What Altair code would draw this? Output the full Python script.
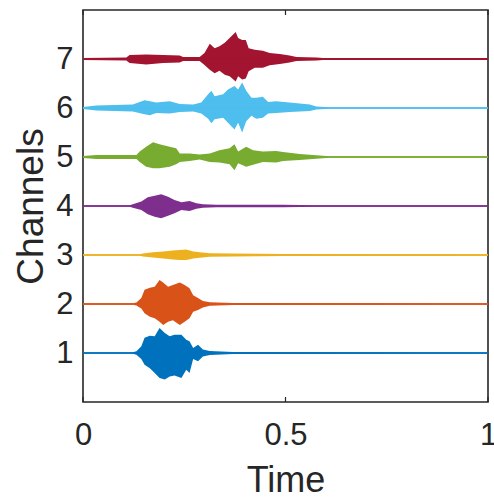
import altair as alt
import pandas as pd

channels = [1, 2, 3, 4, 5, 6, 7]
colors = ["#0072BD", "#D95319", "#EDB120", "#7E2F8E", "#77AC30", "#4DBEEE", "#A2142F"]
xtick_values = [0, 0.5, 1]
ytick_values = [1, 2, 3, 4, 5, 6, 7]

# envelope (upper / lower amplitude) of each channel's trace
t1 = [0, 0.123, 0.132, 0.144, 0.152, 0.165, 0.177, 0.189, 0.202, 0.214, 0.226, 0.243, 0.255, 0.263, 0.272, 0.284, 0.296, 0.313, 0.370, 1.0]
up1 = [0.015, 0.015, 0.035, 0.14, 0.31, 0.35, 0.34, 0.51, 0.41, 0.34, 0.37, 0.37, 0.27, 0.24, 0.10, 0.17, 0.07, 0.04, 0.02, 0.015]
lo1 = [0.015, 0.015, 0.035, 0.12, 0.24, 0.31, 0.41, 0.51, 0.54, 0.48, 0.46, 0.51, 0.34, 0.41, 0.12, 0.17, 0.07, 0.04, 0.02, 0.015]

t2 = [0, 0.123, 0.132, 0.144, 0.152, 0.165, 0.177, 0.189, 0.198, 0.210, 0.222, 0.239, 0.251, 0.263, 0.272, 0.284, 0.296, 0.313, 0.370, 1.0]
up2 = [0.015, 0.015, 0.03, 0.12, 0.29, 0.33, 0.35, 0.49, 0.44, 0.35, 0.39, 0.44, 0.39, 0.32, 0.18, 0.12, 0.06, 0.035, 0.02, 0.015]
lo2 = [0.015, 0.015, 0.03, 0.09, 0.19, 0.26, 0.29, 0.36, 0.43, 0.36, 0.33, 0.43, 0.36, 0.29, 0.16, 0.12, 0.07, 0.035, 0.02, 0.015]

t3 = [0, 0.140, 0.148, 0.173, 0.198, 0.222, 0.239, 0.255, 0.272, 0.288, 0.313, 0.370, 0.494, 1.0]
up3 = [0.015, 0.015, 0.03, 0.055, 0.07, 0.09, 0.10, 0.11, 0.07, 0.055, 0.035, 0.03, 0.02, 0.015]
lo3 = [0.015, 0.015, 0.03, 0.05, 0.07, 0.09, 0.10, 0.10, 0.07, 0.055, 0.035, 0.03, 0.02, 0.015]

t4 = [0, 0.115, 0.123, 0.144, 0.160, 0.177, 0.193, 0.210, 0.226, 0.243, 0.263, 0.280, 0.296, 0.329, 0.494, 0.576, 1.0]
up4 = [0.015, 0.015, 0.035, 0.09, 0.18, 0.21, 0.24, 0.19, 0.12, 0.075, 0.10, 0.055, 0.035, 0.025, 0.025, 0.015, 0.015]
lo4 = [0.015, 0.015, 0.035, 0.08, 0.17, 0.22, 0.25, 0.20, 0.15, 0.08, 0.10, 0.055, 0.035, 0.025, 0.025, 0.015, 0.015]

t5 = [0, 0.033, 0.132, 0.140, 0.156, 0.173, 0.189, 0.214, 0.230, 0.239, 0.263, 0.288, 0.313, 0.337, 0.362, 0.374, 0.383, 0.403, 0.420, 0.444, 0.477, 0.494, 0.535, 0.576, 0.609, 1.0]
up5 = [0.02, 0.04, 0.04, 0.11, 0.21, 0.30, 0.26, 0.21, 0.18, 0.07, 0.07, 0.05, 0.07, 0.14, 0.18, 0.26, 0.11, 0.21, 0.14, 0.11, 0.12, 0.10, 0.06, 0.035, 0.015, 0.015]
lo5 = [0.02, 0.04, 0.04, 0.10, 0.20, 0.23, 0.23, 0.20, 0.15, 0.10, 0.08, 0.05, 0.10, 0.11, 0.15, 0.27, 0.13, 0.20, 0.16, 0.10, 0.11, 0.08, 0.06, 0.035, 0.015, 0.015]

t6 = [0, 0.033, 0.123, 0.152, 0.165, 0.181, 0.214, 0.239, 0.272, 0.292, 0.309, 0.317, 0.325, 0.346, 0.358, 0.374, 0.383, 0.393, 0.403, 0.416, 0.428, 0.444, 0.457, 0.477, 0.510, 0.560, 0.576, 0.609, 1.0]
up6 = [0.02, 0.05, 0.07, 0.16, 0.14, 0.11, 0.14, 0.08, 0.07, 0.11, 0.28, 0.35, 0.24, 0.28, 0.38, 0.45, 0.38, 0.52, 0.35, 0.21, 0.21, 0.23, 0.12, 0.14, 0.11, 0.07, 0.03, 0.015, 0.015]
lo6 = [0.02, 0.05, 0.07, 0.13, 0.15, 0.10, 0.11, 0.08, 0.07, 0.11, 0.22, 0.31, 0.23, 0.20, 0.30, 0.44, 0.30, 0.50, 0.27, 0.16, 0.22, 0.20, 0.11, 0.10, 0.08, 0.06, 0.03, 0.015, 0.015]

t7 = [0, 0.107, 0.115, 0.156, 0.198, 0.239, 0.247, 0.288, 0.300, 0.313, 0.325, 0.337, 0.350, 0.362, 0.377, 0.383, 0.393, 0.402, 0.409, 0.424, 0.444, 0.461, 0.486, 0.510, 0.527, 0.576, 0.593, 1.0]
up7 = [0.02, 0.03, 0.08, 0.09, 0.08, 0.07, 0.04, 0.04, 0.12, 0.31, 0.22, 0.26, 0.33, 0.43, 0.55, 0.43, 0.39, 0.39, 0.22, 0.19, 0.17, 0.12, 0.10, 0.07, 0.04, 0.03, 0.02, 0.02]
lo7 = [0.02, 0.03, 0.08, 0.11, 0.08, 0.07, 0.04, 0.04, 0.12, 0.22, 0.29, 0.24, 0.32, 0.35, 0.46, 0.35, 0.42, 0.40, 0.25, 0.18, 0.18, 0.13, 0.10, 0.07, 0.04, 0.03, 0.02, 0.02]

envelopes = [(t1, up1, lo1), (t2, up2, lo2), (t3, up3, lo3), (t4, up4, lo4),
             (t5, up5, lo5), (t6, up6, lo6), (t7, up7, lo7)]

rows = []
for ch, (tt, uu, ll) in zip(channels, envelopes):
    assert len(tt) == len(uu) == len(ll)
    for ti, u, l in zip(tt, uu, ll):
        rows.append({"t": ti, "ch": ch, "hi": ch + u, "lo": ch - l, "base": ch})
df = pd.DataFrame(rows)
ticks_df = pd.DataFrame({"t": xtick_values})

FONT = "Liberation Sans"
INK = "#262626"
W, H = 405, 392

xsc = alt.Scale(domain=[0, 1], nice=False, zero=False)
ysc = alt.Scale(domain=[0, 8], nice=False, zero=False)
color = alt.Color("ch:N", scale=alt.Scale(domain=channels, range=colors), legend=None)

x_axis = alt.Axis(values=xtick_values, labelExpr="'' + datum.value", title="Time",
                  labelPadding=18, titleY=89, titleBaseline="alphabetic",
                  domain=False, ticks=False, tickSize=0, grid=False,
                  labelFont=FONT, labelFontSize=31, labelColor=INK,
                  titleFont=FONT, titleFontSize=36, titleFontWeight="normal",
                  titleColor=INK, labelOverlap=False, labelFlush=False)
y_axis = alt.Axis(values=ytick_values, format="d", title="Channels",
                  labelPadding=10, titleX=-41, titleY=H / 2, titleBaseline="alphabetic",
                  domain=False, ticks=False, tickSize=0, grid=False,
                  labelFont=FONT, labelFontSize=31, labelColor=INK,
                  titleFont=FONT, titleFontSize=37, titleFontWeight="normal",
                  titleColor=INK, labelOverlap=False, labelFlush=False)

area = alt.Chart(df).mark_area(opacity=1, interpolate="linear").encode(
    x=alt.X("t:Q", scale=xsc, axis=x_axis),
    y=alt.Y("hi:Q", scale=ysc, axis=y_axis),
    y2="lo:Q",
    color=color,
    detail="ch:N",
)

base = alt.Chart(df).mark_line(strokeWidth=1.6).encode(
    x=alt.X("t:Q", scale=xsc),
    y=alt.Y("base:Q", scale=ysc),
    color=color,
    detail="ch:N",
)

tick_bottom = alt.Chart(ticks_df).mark_rule(color=INK, strokeWidth=1.2).encode(
    x=alt.X("t:Q", scale=xsc), y=alt.value(H), y2=alt.value(H - 5)
)
tick_top = alt.Chart(ticks_df).mark_rule(color=INK, strokeWidth=1.2).encode(
    x=alt.X("t:Q", scale=xsc), y=alt.value(0), y2=alt.value(5)
)

chart = (
    alt.layer(area, base, tick_bottom, tick_top)
    .properties(width=W, height=H, autosize=alt.AutoSizeParams(type="none"),
                padding={"left": 83, "top": 10, "right": 6, "bottom": 98},
                background="white")
    .configure_view(stroke=INK, strokeWidth=1.6)
)

chart.save("out.html", embed_options={"renderer": "svg", "actions": False})
